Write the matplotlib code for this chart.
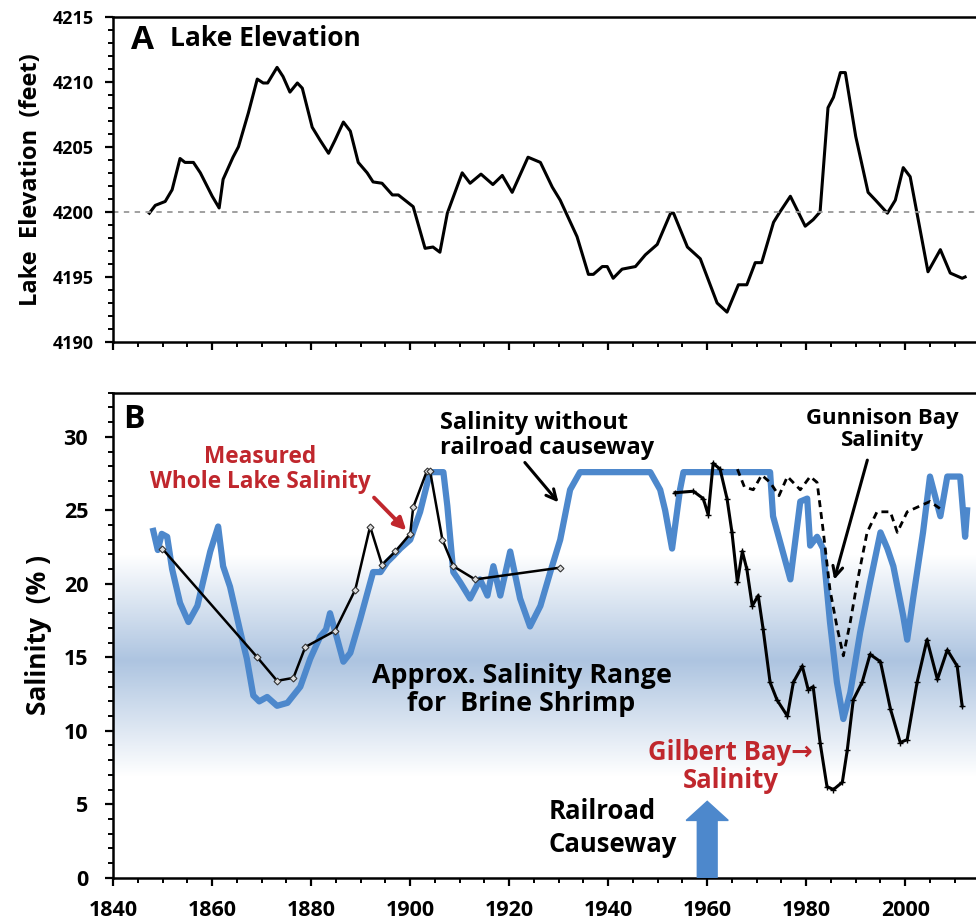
import numpy as np
import matplotlib
matplotlib.use("Agg")
import matplotlib.pyplot as plt
from matplotlib.ticker import MultipleLocator

plt.rcParams['font.family'] = ['Open Sans', 'DejaVu Sans']
plt.rcParams['font.weight'] = 'bold'

# Panel A: lake elevation (feet)
lake_years = [1847.3, 1848.5, 1850.5, 1851.9, 1853.5, 1854.5, 1856.2, 1857.6, 1860.0, 1861.4,
              1862.2, 1864.2, 1865.3, 1867.3, 1869.1, 1870.3, 1871.2, 1873.1, 1874.3, 1875.7,
              1877.2, 1878.2, 1880.2, 1881.8, 1883.5, 1884.8, 1886.5, 1887.9, 1889.5, 1891.3,
              1892.5, 1894.3, 1896.4, 1897.6, 1900.6, 1903.0, 1904.6, 1906.0, 1907.5, 1910.5,
              1912.1, 1914.3, 1916.7, 1918.6, 1920.6, 1923.8, 1926.3, 1928.7, 1930.3, 1933.7,
              1936.0, 1937.0, 1938.8, 1939.8, 1941.0, 1942.8, 1945.5, 1947.5, 1949.9, 1952.6,
              1953.2, 1956.0, 1958.6, 1962.0, 1964.0, 1966.3, 1968.0, 1969.7, 1971.0, 1973.4,
              1974.7, 1976.8, 1979.8, 1981.4, 1982.8, 1984.4, 1985.5, 1986.9, 1987.9, 1990.0,
              1992.5, 1994.0, 1996.4, 1998.0, 1999.6, 2001.0, 2004.6, 2007.1, 2009.1, 2011.5,
              2012.1]
lake_elev = [4199.9, 4200.5, 4200.8, 4201.7, 4204.1, 4203.8, 4203.8, 4203.0, 4201.2, 4200.3,
             4202.5, 4204.2, 4205.0, 4207.6, 4210.2, 4209.9, 4209.9, 4211.1, 4210.4, 4209.2,
             4209.9, 4209.5, 4206.5, 4205.5, 4204.5, 4205.5, 4206.9, 4206.2, 4203.8, 4203.0,
             4202.3, 4202.2, 4201.3, 4201.3, 4200.4, 4197.2, 4197.3, 4196.9, 4199.9, 4203.0,
             4202.2, 4202.9, 4202.1, 4202.8, 4201.5, 4204.2, 4203.8, 4201.9, 4200.9, 4198.1,
             4195.2, 4195.2, 4195.8, 4195.8, 4194.9, 4195.6, 4195.8, 4196.7, 4197.5, 4199.9,
             4199.9, 4197.3, 4196.4, 4193.0, 4192.3, 4194.4, 4194.4, 4196.1, 4196.1, 4199.2,
             4200.0, 4201.2, 4198.9, 4199.4, 4200.0, 4208.0, 4208.8, 4210.7, 4210.7, 4205.8,
             4201.5, 4200.9, 4199.9, 4200.9, 4203.4, 4202.7, 4195.4, 4197.1, 4195.3, 4194.9,
             4195.0]

# Panel B: salinity without railroad causeway (%)
nocw_years = [1848.1, 1849.0, 1849.8, 1850.9, 1851.9, 1853.5, 1855.2, 1857.0, 1859.6, 1861.2,
              1862.2, 1863.6, 1865.7, 1867.0, 1868.3, 1869.5, 1871.1, 1873.1, 1875.2, 1877.8,
              1879.8, 1881.8, 1883.0, 1883.8, 1885.3, 1886.5, 1887.9, 1889.9, 1892.5, 1894.0,
              1895.4, 1896.6, 1898.0, 1900.0, 1902.0, 1904.0, 1906.7, 1907.5, 1908.7, 1910.1,
              1912.1, 1914.1, 1915.6, 1916.8, 1918.2, 1920.2, 1922.2, 1924.2, 1926.3, 1928.3,
              1930.3, 1932.3, 1934.3, 1948.5, 1950.5, 1951.5, 1952.9, 1954.5, 1955.2, 1972.7,
              1973.3, 1976.8, 1978.8, 1980.2, 1980.8, 1982.2, 1983.4, 1984.8, 1986.2, 1987.5,
              1988.9, 1990.9, 1992.9, 1995.0, 1996.4, 1997.6, 1999.6, 2000.4, 2001.6, 2003.6,
              2005.0, 2007.1, 2008.5, 2011.1, 2012.1, 2012.5]
nocw_sal = [23.6, 22.3, 23.4, 23.2, 21.0, 18.7, 17.4, 18.5, 22.2, 23.9,
            21.2, 19.8, 16.7, 14.9, 12.4, 12.0, 12.3, 11.7, 11.9, 13.0,
            14.9, 16.4, 16.9, 18.0, 16.2, 14.7, 15.3, 17.6, 20.8, 20.8,
            21.5, 21.9, 22.4, 23.0, 24.9, 27.6, 27.6, 25.3, 20.8, 20.1,
            19.0, 20.3, 19.2, 21.2, 19.2, 22.2, 19.0, 17.1, 18.5, 20.8,
            23.0, 26.4, 27.6, 27.6, 26.4, 25.0, 22.4, 26.4, 27.6, 27.6,
            24.6, 20.3, 25.6, 25.8, 22.6, 23.2, 22.4, 17.4, 13.3, 10.8,
            12.6, 16.7, 20.1, 23.5, 22.4, 21.2, 17.8, 16.2, 19.0, 23.5,
            27.3, 24.6, 27.3, 27.3, 23.2, 25.0]

# measured whole lake salinity
meas_years = [1849.9, 1869.1, 1873.1, 1876.4, 1878.8, 1884.8, 1888.9, 1891.9, 1894.3, 1897.0,
              1900.0, 1900.6, 1903.4, 1904.0, 1906.5, 1908.7, 1913.1, 1930.3]
meas_sal = [22.4, 15.0, 13.4, 13.6, 15.7, 16.8, 19.6, 23.9, 21.3, 22.2,
            23.4, 25.2, 27.7, 27.7, 23.0, 21.2, 20.3, 21.1]

# Gilbert Bay (south arm)
gil_years = [1953.5, 1957.2, 1959.2, 1960.2, 1961.2, 1962.6, 1964.0, 1965.0, 1966.1, 1967.1,
             1968.0, 1969.1, 1970.3, 1971.3, 1972.7, 1974.1, 1976.2, 1977.4, 1979.2, 1980.4,
             1981.4, 1982.8, 1984.2, 1985.5, 1987.3, 1988.3, 1989.5, 1991.3, 1992.9, 1995.0,
             1997.0, 1999.0, 2000.4, 2002.4, 2004.4, 2006.5, 2008.5, 2010.5, 2011.5]
gil_sal = [26.2, 26.3, 25.8, 24.7, 28.2, 27.8, 25.8, 23.5, 20.1, 22.2,
           21.0, 18.5, 19.2, 16.9, 13.3, 12.1, 11.0, 13.3, 14.4, 12.8,
           13.0, 9.2, 6.2, 6.0, 6.5, 8.7, 12.1, 13.3, 15.2, 14.7,
           11.5, 9.2, 9.4, 13.3, 16.2, 13.5, 15.5, 14.4, 11.7]

# Gunnison Bay (north arm)
gun_years = [1966.1, 1967.5, 1969.3, 1971.0, 1972.7, 1974.5, 1976.2, 1978.8, 1980.8, 1982.2,
             1983.4, 1984.8, 1986.2, 1987.5, 1988.9, 1990.3, 1992.3, 1994.3, 1997.0, 1998.4,
             2000.4, 2003.0, 2005.0, 2007.1]
gun_sal = [27.8, 26.6, 26.4, 27.4, 26.9, 26.0, 27.3, 26.4, 27.3, 26.9,
           23.7, 19.6, 17.1, 15.1, 17.4, 20.1, 23.5, 24.9, 24.9, 23.5,
           24.9, 25.3, 25.6, 25.1]

blue = '#4d88cc'
red = '#c0272d'

fig = plt.figure(figsize=(9.76, 9.22), dpi=100)
axA = fig.add_axes([0.116, 0.629, 0.884, 0.353])
axB = fig.add_axes([0.116, 0.048, 0.884, 0.526])

for ax in (axA, axB):
    ax.set_xlim(1840, 2014.3)
    ax.spines['right'].set_visible(False)
    for s in ('left', 'bottom', 'top'):
        ax.spines[s].set_linewidth(1.8)
    ax.xaxis.set_major_locator(MultipleLocator(20))
    ax.xaxis.set_minor_locator(MultipleLocator(5))
    ax.tick_params(which='major', direction='out', length=6, width=1.6)
    ax.tick_params(which='minor', direction='out', length=3.5, width=1.4)

# ---- panel A
axA.plot(lake_years, lake_elev, color='black', lw=2.2)
axA.axhline(4200, color='#999999', ls=(0, (3, 3)), lw=1.3)
axA.set_ylim(4190, 4215)
axA.yaxis.set_major_locator(MultipleLocator(5))
axA.yaxis.set_minor_locator(MultipleLocator(1))
axA.set_xticklabels([])
axA.tick_params(axis='y', labelsize=13, pad=8)
axA.set_ylabel('Lake  Elevation  (feet)', fontsize=17, fontweight='bold', labelpad=7)
axA.text(1843.6, 4213.2, 'A', fontsize=24, fontweight='bold', va='center')
axA.text(1851.5, 4213.3, 'Lake Elevation', fontsize=19, fontweight='bold', va='center')

# ---- panel B
axB.set_ylim(0, 33)
grad_y = np.linspace(0, 33, 331)
shade = np.interp(grad_y, [0, 6.9, 14.8, 22.0, 33], [0, 0, 1, 0, 0])
c_light = np.array([1.0, 1.0, 1.0])
c_dark = np.array([0.68, 0.77, 0.88])
img = c_light[None, :] + (c_dark - c_light)[None, :] * shade[:, None]
axB.imshow(img[:, None, :], extent=[1840, 2014.3, 0, 33], origin='lower', aspect='auto', zorder=0)

axB.plot(nocw_years, nocw_sal, color=blue, lw=4.5, zorder=2)
axB.plot(meas_years, meas_sal, color='black', lw=1.8, marker='D', ms=3.5,
         mfc='#dddddd', mec='#333333', mew=0.8, zorder=3)
axB.plot(gil_years, gil_sal, color='black', lw=2.2, marker='+', ms=4, mew=1, zorder=3)
axB.plot(gun_years, gun_sal, color='black', lw=2.0, ls=(0, (2.5, 1.8)), zorder=3)

axB.yaxis.set_major_locator(MultipleLocator(5))
axB.yaxis.set_minor_locator(MultipleLocator(1))
axB.tick_params(axis='both', labelsize=15.5)
axB.tick_params(axis='y', pad=12)
axB.tick_params(axis='x', pad=10)
axB.set_ylabel('Salinity  (% )', fontsize=19, fontweight='bold', labelpad=8)
axB.text(1842.0, 31.2, 'B', fontsize=23, fontweight='bold', va='center')

axB.text(1869.7, 27.75, 'Measured\nWhole Lake Salinity', color=red, fontsize=16.3,
         fontweight='bold', ha='center', va='center', linespacing=1.05)
axB.annotate('', xy=(1899.6, 23.5), xytext=(1892.3, 26.0),
             arrowprops=dict(arrowstyle='-|>', color=red, lw=2.8, mutation_scale=18))

axB.text(1906.0, 30.1, 'Salinity without\nrailroad causeway', color='black', fontsize=17,
         fontweight='bold', ha='left', va='center', linespacing=1.05)
axB.annotate('', xy=(1930.3, 25.4), xytext=(1922.8, 28.4),
             arrowprops=dict(arrowstyle='->', color='black', lw=2.2, mutation_scale=18))

axB.text(1995.4, 30.5, 'Gunnison Bay\nSalinity', color='black', fontsize=16,
         fontweight='bold', ha='center', va='center', linespacing=1.05)
axB.annotate('', xy=(1985.5, 20.1), xytext=(1992.5, 28.6),
             arrowprops=dict(arrowstyle='->', color='black', lw=2.2, mutation_scale=18))

axB.text(1922.5, 12.75, 'Approx. Salinity Range\nfor  Brine Shrimp', color='black',
         fontsize=19.3, fontweight='bold', ha='center', va='center', linespacing=1.1)

axB.text(1964.7, 7.55, 'Gilbert Bay\u2192\nSalinity', color=red, fontsize=18.5,
         fontweight='bold', ha='center', va='center', linespacing=1.05)

axB.text(1927.9, 3.4, 'Railroad\nCauseway', color='black', fontsize=18.5,
         fontweight='bold', ha='left', va='center', linespacing=1.3)
axB.arrow(1960, 0, 0, 5.2, width=4.0, head_width=8.5, head_length=1.3,
          length_includes_head=True, color=blue, zorder=4)

fig.savefig('out.png', dpi=100)
